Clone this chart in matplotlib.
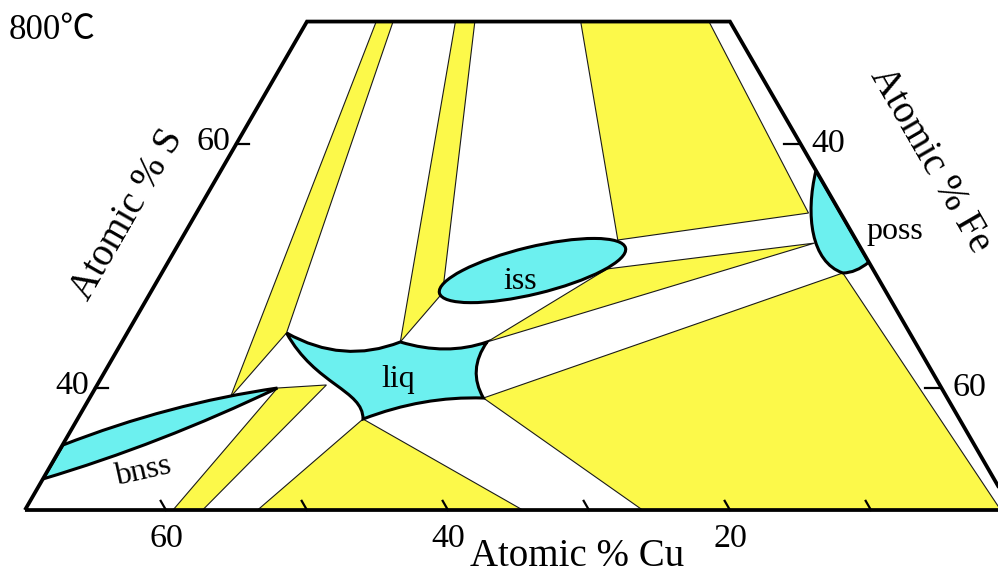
import numpy as np
import matplotlib
matplotlib.use('Agg')
import matplotlib.pyplot as plt
from matplotlib.path import Path
from matplotlib.patches import PathPatch, Polygon, Ellipse

YELLOW = '#fcf94a'
CYAN = '#6cf0ef'
SERIF = ['Liberation Serif', 'DejaVu Serif', 'DejaVu Sans']

# isothermal section, S between 30 and 70 at%; all compositions are (at% Cu, at% S)
frame_pts = [(70, 30), (30, 70), (0, 70), (0, 30)]
cu_ticks = [10, 20, 30, 40, 50, 60]
cu_labels = [20, 40, 60]
s_ticks = [40, 60]
fe_ticks = [40, 60]

# three-phase triangles reaching the sulphur liquid at the S corner
s_liquid = (0, 100)
tri_s_bnss_liq = [s_liquid, (50.8, 39.25), (44.2, 44.5)]
tri_s_liq_iss = [s_liquid, (36.5, 43.76), (31.5, 47.77)]
tri_s_iss_poss = [s_liquid, (16.9, 52.11), (2.27, 54.32)]
tri_liq_iss_poss = [(30.35, 43.76), (18.85, 49.74), (3.07, 51.86)]
# three-phase fields whose third corner lies below 30 at% S
field_bnss_liq = [(47.1, 39.99), (43.5, 40.24), (57.4, 30.0), (59.5, 30.0)]
field_liq_mid = [(42.3, 37.45), (34.7, 30.0), (53.5, 30.0)]
field_liq_poss = [(32.9, 39.17), (2.29, 49.41), (0.8, 30.0), (26.2, 30.0)]

# single-phase fields: boundary corners with bezier control points
liq_pts = [(44.2, 44.5), (41.5, 41.91), (36.5, 43.76), (33.8, 42.61), (30.35, 43.76),
           (32.9, 41.46), (32.9, 39.17), (37.1, 39.34), (42.3, 37.45),
           (41.1, 39.83), (44.3, 40.24), (44.2, 44.5)]
bnss_pts = [(64.65, 35.32), (55.4, 38.72), (47.1, 39.99), (57.7, 35.40), (67.46, 32.54),
            (64.65, 35.32)]
poss_pts = [(0.0, 57.8), (2.58, 54.16), (4.09, 50.31), (2.29, 49.41), (1.37, 49.41),
            (0.0, 50.3), (0.0, 57.8)]
iss_center = (24.2, 49.61)
iss_axes = (13.58, 3.34)
iss_tilt = 13.6


def tern(cu, s):
    return 100.0 - cu - s / 2.0, s * np.sqrt(3) / 2.0


def xy(points):
    return np.array([tern(cu, s) for cu, s in points])


fig = plt.figure(figsize=(9.98, 5.77), dpi=100)
ax = fig.add_axes([0, 0, 1, 1])
ax.set_xlim(13.23, 84.01)
ax.set_ylim(21.23, 62.15)
ax.axis('off')

frame = Polygon(xy(frame_pts), closed=True, fill=False, lw=2.7, ec='black',
                joinstyle='miter', zorder=6)
ax.add_patch(frame)

for pts in [tri_s_bnss_liq, tri_s_liq_iss, tri_s_iss_poss, tri_liq_iss_poss,
            field_bnss_liq, field_liq_mid, field_liq_poss]:
    p = Polygon(xy(pts), closed=True, fc=YELLOW, ec='#1a1a1a', lw=0.8, zorder=2)
    ax.add_patch(p)
    p.set_clip_path(frame)

M, C3, C4, CL = Path.MOVETO, Path.CURVE3, Path.CURVE4, Path.CLOSEPOLY
liq_codes = [M, C3, C3, C3, C3, C3, C3, C3, C3, C4, C4, C4]
bnss_codes = [M, C3, C3, C3, C3, CL]
poss_codes = [M, C4, C4, C4, C3, C3, CL]

for pts, codes in [(liq_pts, liq_codes), (bnss_pts, bnss_codes), (poss_pts, poss_codes)]:
    p = PathPatch(Path(xy(pts), codes), fc=CYAN, ec='black', lw=2.2, zorder=4)
    ax.add_patch(p)
    p.set_clip_path(frame)

iss = Ellipse(tern(*iss_center), iss_axes[0], iss_axes[1], angle=iss_tilt,
              fc=CYAN, ec='black', lw=2.2, zorder=4)
ax.add_patch(iss)

# ticks
for cu in cu_ticks:
    a, b = xy([(cu, 30), (cu, 30.75)])
    ax.plot([a[0], b[0]], [a[1], b[1]], color='black', lw=1.6, zorder=6)
for s in s_ticks:
    a, b = xy([(100 - s, s), (100 - s - 0.9, s)])
    ax.plot([a[0], b[0]], [a[1], b[1]], color='black', lw=1.6, zorder=6)
for fe in fe_ticks:
    a, b = xy([(0, 100 - fe), (1.2, 100 - fe)])
    ax.plot([a[0], b[0]], [a[1], b[1]], color='black', lw=1.6, zorder=6)

for cu in cu_labels:
    ax.annotate(str(cu), xy=tern(cu, 30), xytext=(0, -37), textcoords='offset pixels',
                ha='center', va='baseline', fontsize=24.5, family=SERIF)
for s in s_ticks:
    ax.annotate(str(s), xy=tern(100 - s, s), xytext=(-6, -6), textcoords='offset pixels',
                ha='right', va='baseline', fontsize=24.5, family=SERIF)
for fe in fe_ticks:
    ax.annotate(str(fe), xy=tern(0, 100 - fe), xytext=(11, -8), textcoords='offset pixels',
                ha='left', va='baseline', fontsize=24.5, family=SERIF)

# phase names
ax.text(*tern(38.2, 40.65), 'liq', fontsize=23, ha='center', va='center', family=SERIF, zorder=7)
ax.text(*tern(25.5, 48.75), 'iss', fontsize=23, ha='center', va='center', family=SERIF, zorder=7)
ax.text(*tern(-3.1, 52.77), 'poss', fontsize=23, ha='center', va='center', family=SERIF, zorder=7)
ax.text(*tern(60.1, 33.11), 'bnss', fontsize=23, ha='center', va='center', rotation=12.5,
        family=SERIF, zorder=7)

fig.text(0.052, 0.947, '800\u2103', fontsize=25, ha='center', va='center',
         family=['Liberation Serif', 'Noto Sans CJK JP', 'DejaVu Sans'])
fig.text(0.578, 0.003, 'Atomic % Cu', fontsize=28, ha='center', va='bottom', family=SERIF)
fig.text(0.128, 0.627, 'Atomic % S', fontsize=28, ha='center', va='center', rotation=60,
         rotation_mode='anchor', family=SERIF)
fig.text(0.932, 0.723, 'Atomic % Fe', fontsize=28, ha='center', va='center', rotation=-60,
         rotation_mode='anchor', family=SERIF)

fig.savefig('out.png', dpi=100)
